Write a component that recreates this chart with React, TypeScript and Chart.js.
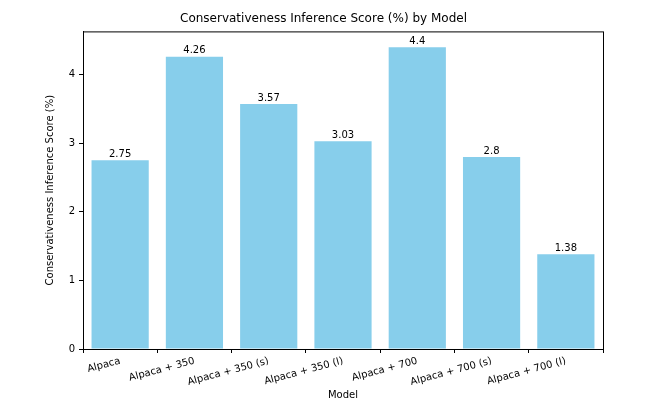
import { useEffect, useRef } from 'react'
import { Chart, registerables } from 'chart.js'

Chart.register(...registerables)

const models = [
  'Alpaca',
  'Alpaca + 350',
  'Alpaca + 350 (s)',
  'Alpaca + 350 (l)',
  'Alpaca + 700',
  'Alpaca + 700 (s)',
  'Alpaca + 700 (l)',
]
const scores = [2.75, 4.26, 3.57, 3.03, 4.4, 2.8, 1.38]
const yTicks = [0, 1, 2, 3, 4]

const FONT = 'DejaVu Sans'

const barLabels = {
  id: 'barLabels',
  afterDatasetsDraw(chart: any) {
    const ctx = chart.ctx
    const meta = chart.getDatasetMeta(0)
    ctx.save()
    ctx.fillStyle = '#000'
    ctx.font = `10px "${FONT}"`
    ctx.textAlign = 'center'
    ctx.textBaseline = 'bottom'
    meta.data.forEach((bar: any, i: number) => {
      ctx.fillText(String(scores[i]), bar.x, bar.y - 1)
    })
    // frame around plot area
    const a = chart.chartArea
    ctx.strokeStyle = '#000'
    ctx.lineWidth = 1
    ctx.strokeRect(a.left + 0.5, a.top + 0.5, a.right - a.left, a.bottom - a.top)
    ctx.restore()
  },
}

export default function App() {
  const chartRef = useRef<HTMLCanvasElement>(null)

  useEffect(() => {
    document.body.style.margin = '0'
    if (!chartRef.current) return

    const chart = new Chart(chartRef.current, {
      type: 'bar',
      data: {
        labels: models,
        datasets: [{
          data: scores,
          backgroundColor: '#87CEEB',
          categoryPercentage: 0.77,
          barPercentage: 1,
        }],
      },
      options: {
        animation: false,
        responsive: false,
        maintainAspectRatio: false,
        layout: { padding: { left: 44, right: 59, top: 0, bottom: 0 } },
        plugins: {
          legend: { display: false },
          tooltip: { enabled: false },
          title: {
            display: true,
            text: 'Conservativeness Inference Score (%) by Model',
            color: '#000',
            font: { family: FONT, size: 12, weight: 'normal' },
            padding: { top: 12, bottom: 5 },
          },
        },
        scales: {
          x: {
            grid: { drawOnChartArea: false, drawTicks: true, tickLength: 4, color: '#000' },
            border: { color: '#000' },
            ticks: {
              color: '#000',
              font: { family: FONT, size: 10 },
              minRotation: 15,
              maxRotation: 15,
              padding: 2,
            },
            title: {
              display: true,
              text: 'Model',
              color: '#000',
              font: { family: FONT, size: 10 },
              padding: { top: 0, bottom: 0 },
            },
            afterFit: (s: any) => { s.height = 52 },
          },
          y: {
            min: 0,
            max: 4.63,
            afterBuildTicks: (s: any) => { s.ticks = yTicks.map((v) => ({ value: v })) },
            grid: { drawOnChartArea: false, drawTicks: true, tickLength: 4, color: '#000' },
            border: { color: '#000' },
            ticks: { color: '#000', font: { family: FONT, size: 10 }, padding: 4 },
            title: {
              display: true,
              text: 'Conservativeness Inference Score (%)',
              color: '#000',
              font: { family: FONT, size: 10 },
              padding: 0,
            },
            afterFit: (s: any) => { s.width = 39 },
          },
        },
      },
      plugins: [barLabels],
    })

    return () => chart.destroy()
  }, [])

  return (
    <div style={{ width: 662, height: 401, background: '#fff' }}>
      <canvas ref={chartRef} width={662} height={401} />
    </div>
  )
}
